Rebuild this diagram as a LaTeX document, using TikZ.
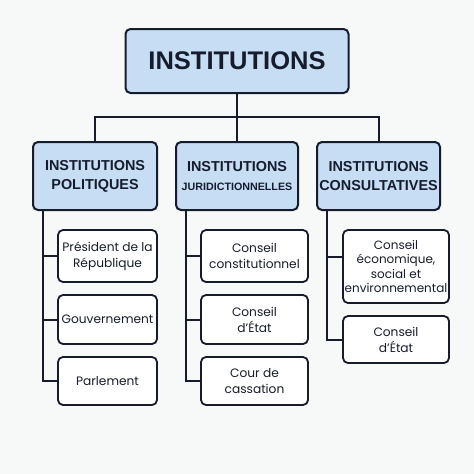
\documentclass[tikz,border=0pt]{standalone}
\usepackage{fontspec}
\setmainfont{Liberation Sans}
\newfontfamily\leaffont{Poppins}
\definecolor{bg}{HTML}{F7F8F8}
\definecolor{ink}{HTML}{161C2B}
\definecolor{boxblue}{HTML}{C6DDF4}
\tikzset{
  topbox/.style={draw=ink, line width=2pt, fill=boxblue, rounded corners=5pt, inner sep=0pt, align=center, text=ink,
    font=\fontsize{25.5}{28}\selectfont\bfseries},
  catbox/.style={draw=ink, line width=2pt, fill=boxblue, rounded corners=5pt, inner sep=0pt, align=center, text=ink,
    minimum height=68pt, font=\fontsize{14.4}{19}\selectfont\bfseries},
  leafbox/.style={draw=ink, line width=1.8pt, fill=white, rounded corners=5pt, inner sep=0pt, align=center, text=ink,
    font=\leaffont\fontsize{12.2}{16}\selectfont},
  conn/.style={draw=ink, line width=2pt}
}
\begin{document}
\begin{tikzpicture}[x=1pt,y=-1pt]
\fill[bg] (0,0) rectangle (474,474);
\useasboundingbox (0,0) rectangle (474,474);
% top
\node[topbox, minimum width=223pt, minimum height=64pt] (top) at (237,61) {INSTITUTIONS};
% categories
\node[catbox, minimum width=124pt] (c1) at (95,176) {INSTITUTIONS\\POLITIQUES};
\node[catbox, minimum width=122pt] (c2) at (237,176) {INSTITUTIONS\\{\fontsize{10.7}{19}\selectfont JURIDICTIONNELLES}};
\node[catbox, minimum width=123pt] (c3) at (378.5,176) {INSTITUTIONS\\CONSULTATIVES};
% leaves col 1
\node[leafbox, minimum width=99pt, minimum height=52pt] (l11) at (107.5,256) {Président de la\\République};
\node[leafbox, minimum width=99pt, minimum height=49pt] (l12) at (107.5,319.5) {Gouvernement};
\node[leafbox, minimum width=99pt, minimum height=48pt] (l13) at (107.5,381) {Parlement};
% leaves col 2
\node[leafbox, minimum width=107pt, minimum height=52pt] (l21) at (254.5,256) {Conseil\\constitutionnel};
\node[leafbox, minimum width=107pt, minimum height=49pt] (l22) at (254.5,319.5) {Conseil\\d’État};
\node[leafbox, minimum width=107pt, minimum height=48pt] (l23) at (254.5,381) {Cour de\\cassation};
% leaves col 3
\node[leafbox, minimum width=106pt, minimum height=73pt, font=\leaffont\fontsize{12}{14.5}\selectfont] (l31) at (396,266.5) {Conseil\\économique,\\social et\\environnemental};
\node[leafbox, minimum width=106pt, minimum height=47pt] (l32) at (396,339.5) {Conseil\\d’État};
% connectors top
\draw[conn] (top.south) -- (c2.north);
\draw[conn] (c1.north) -- ++(0,-24) -| (c3.north);
% col 1
\draw[conn] ([xshift=11pt]c1.south west) |- (l13.west);
\draw[conn] ([xshift=11pt]c1.south west) |- (l11.west);
\draw[conn] ([xshift=11pt]c1.south west) |- (l12.west);
% col 2
\draw[conn] ([xshift=11pt]c2.south west) |- (l23.west);
\draw[conn] ([xshift=11pt]c2.south west) |- (l21.west);
\draw[conn] ([xshift=11pt]c2.south west) |- (l22.west);
% col 3
\draw[conn] ([xshift=11pt]c3.south west) |- (l32.west);
\draw[conn] ([xshift=11pt]c3.south west) |- ([yshift=9.5pt]l31.west);
\end{tikzpicture}
\end{document}
